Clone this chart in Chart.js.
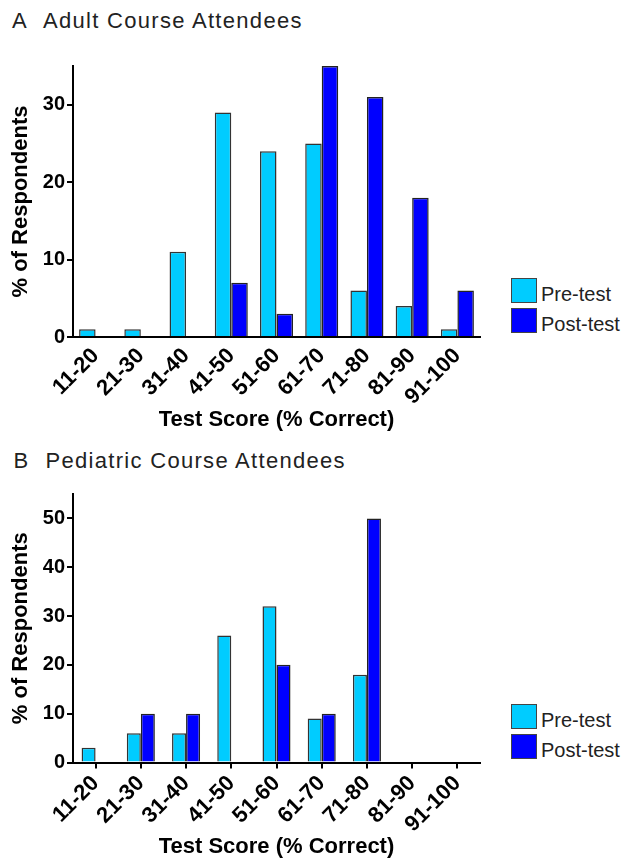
<!DOCTYPE html>
<html>
<head>
<meta charset="utf-8">
<script src="https://cdn.jsdelivr.net/npm/chart.js@4.4.0/dist/chart.umd.min.js"></script>
<style>
  body { margin: 0; width: 621px; height: 859px; overflow: hidden; background: #fff; position: relative;
         font-family: "Liberation Sans", Arial, sans-serif; }
  .ttl { position: absolute; font-size: 22px; line-height: 22px; color: #222; letter-spacing: 1.3px; white-space: nowrap; }
  canvas { position: absolute; left: 0; }
  .leg { position: absolute; left: 511px; width: 110px; }
  .item { position: relative; height: 30px; }
  .sw { position: absolute; left: 0; top: 0; width: 26px; height: 25px; box-sizing: border-box; border: 1.5px solid #444; }
  .item span { position: absolute; left: 30px; top: 5.5px; font-size: 20px; line-height: 20px; color: #222; white-space: nowrap; }
</style>
</head>
<body>

<div class="ttl" style="left:12px;top:10px">A</div>
<div class="ttl" style="left:43px;top:10px">Adult Course Attendees</div>
<canvas id="graphA" width="490" height="390" style="top:50px"></canvas>
<div class="leg" style="top:278px">
  <div class="item"><div class="sw" style="background:#00CCFF"></div><span>Pre-test</span></div>
  <div class="item"><div class="sw" style="background:#0000FF"></div><span>Post-test</span></div>
</div>

<div class="ttl" style="left:13.5px;top:450px">B</div>
<div class="ttl" style="left:45.5px;top:450px">Pediatric Course Attendees</div>
<canvas id="graphB" width="490" height="385" style="top:480px"></canvas>
<div class="leg" style="top:704px">
  <div class="item"><div class="sw" style="background:#00CCFF"></div><span>Pre-test</span></div>
  <div class="item"><div class="sw" style="background:#0000FF"></div><span>Post-test</span></div>
</div>

<script>
//---------dados
var faixas = ['11-20', '21-30', '31-40', '41-50', '51-60', '61-70', '71-80', '81-90', '91-100'];

var adultPre  = [1, 1, 11, 29, 24, 25, 6, 4, 1];
var adultPost = [0, 0, 0, 7, 3, 35, 31, 18, 6];

var pedPre  = [3, 6, 6, 26, 32, 9, 18, 0, 0];
var pedPost = [0, 10, 10, 0, 20, 10, 50, 0, 0];

var yMaxA = 35;
var yMaxB = 55;

var corPre = '#00CCFF';
var corPost = '#0000FF';

Chart.defaults.font.family = "'Liberation Sans', Arial, sans-serif";
Chart.defaults.color = '#000';

function montaGrafico(canvasId, pre, post, yMax, opts) {
  var ctx = document.getElementById(canvasId);
  return new Chart(ctx, {
    type: 'bar',
    data: {
      labels: faixas,
      datasets: [{
        label: 'Pre-test',
        data: pre,
        backgroundColor: corPre,
        borderColor: '#333',
        borderWidth: 1.5,
        barPercentage: 1,
        categoryPercentage: opts.catPct
      }, {
        label: 'Post-test',
        data: post,
        backgroundColor: corPost,
        borderColor: '#222',
        borderWidth: 1.5,
        barPercentage: 1,
        categoryPercentage: opts.catPct
      }]
    },
    options: {
      responsive: false,
      animation: false,
      devicePixelRatio: 1,
      layout: { padding: { top: opts.padTop, right: 10, left: 0, bottom: 0 } },
      plugins: {
        legend: { display: false },
        tooltip: { enabled: false }
      },
      scales: {
        y: {
          min: 0,
          max: yMax,
          afterFit: function (scale) { scale.width = 73; },
          // so os multiplos de 10 (o topo do eixo fica sem rotulo)
          afterBuildTicks: function (scale) {
            scale.ticks = scale.ticks.filter(function (t) { return t.value % 10 === 0; });
          },
          ticks: {
            stepSize: 10,
            padding: 2,
            color: '#000',
            font: { size: 20, weight: 'bold' }
          },
          grid: {
            drawOnChartArea: false,
            drawTicks: true,
            tickLength: 6,
            color: '#000',
            lineWidth: 2
          },
          border: { display: true, color: '#000', width: 2 },
          title: {
            display: true,
            text: '% of Respondents',
            color: '#000',
            font: { size: 22, weight: 'bold' },
            padding: { top: 8, bottom: 0 }
          }
        },
        x: {
          offset: true,
          afterFit: function (scale) { scale.height = opts.xHeight; },
          ticks: {
            minRotation: 45,
            maxRotation: 45,
            autoSkip: false,
            padding: opts.tickPad,
            color: '#000',
            font: { size: 22, weight: 'bold' }
          },
          grid: {
            display: opts.xTicks,
            drawTicks: opts.xTicks,
            drawOnChartArea: false,
            offset: false,
            tickLength: 6,
            color: '#000',
            lineWidth: 2
          },
          border: { display: true, color: '#000', width: 2 },
          title: {
            display: true,
            text: 'Test Score (% Correct)',
            color: '#000',
            font: { size: 22, weight: 'bold' },
            padding: { top: 0, bottom: opts.titlePad }
          }
        }
      }
    }
  });
}

//---------------------------gráfico A
montaGrafico('graphA', adultPre, adultPost, yMaxA, {
  catPct: 0.73, padTop: 16, xHeight: 103, xTicks: false, tickPad: 6, titlePad: 7.3
});

//---------------------------gráfico B
montaGrafico('graphB', pedPre, pedPost, yMaxB, {
  catPct: 0.62, padTop: 12, xHeight: 102.5, xTicks: true, tickPad: 2, titlePad: 4.8
});
</script>
</body>
</html>
